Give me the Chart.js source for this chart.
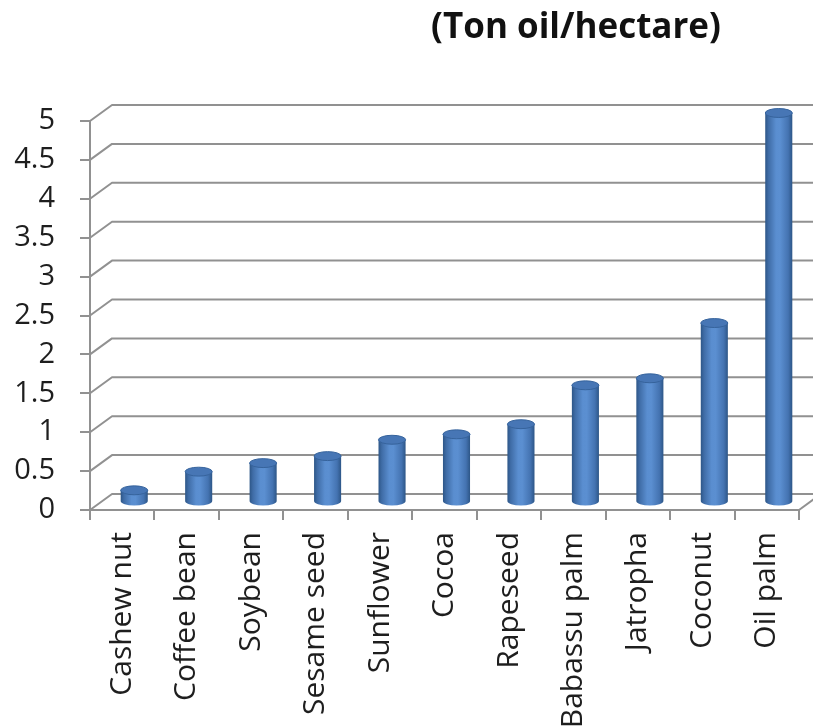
<!DOCTYPE html>
<html>
<head>
<meta charset="utf-8">
<script src="https://cdn.jsdelivr.net/npm/chart.js@4.4.1/dist/chart.umd.min.js"></script>
<style>
  html, body { margin: 0; padding: 0; background: #ffffff; }
  #wrap { width: 813px; height: 728px; position: relative; }
</style>
</head>
<body>
<div id="wrap"><canvas id="chart" width="813" height="728"></canvas></div>
<script>
// Oil yield per crop, tonnes of oil per hectare
const categories = ['Cashew nut', 'Coffee bean', 'Soybean', 'Sesame seed', 'Sunflower',
  'Cocoa', 'Rapeseed', 'Babassu palm', 'Jatropha', 'Coconut', 'Oil palm'];
const oilYield = [0.15, 0.39, 0.5, 0.59, 0.8, 0.87, 1.0, 1.5, 1.59, 2.3, 5.0];
const yTicks = [0, 0.5, 1, 1.5, 2, 2.5, 3, 3.5, 4, 4.5, 5];
const yTickLabels = ['0', '0.5', '1', '1.5', '2', '2.5', '3', '3.5', '4', '4.5', '5'];
const titleText = '(Ton oil/hectare)';

const FONT = "'Open Sans', 'DejaVu Sans', sans-serif";
const GRID = '#919191';
const TEXT = '#1e1e1e';
// depth of the pseudo-3D box (back wall offset) and where the bars sit in it
const DEPTH_X = 22, DEPTH_Y = -16;
const BAR_X = 12, BAR_Y = -8;

// back wall grid, side wall diagonals and floor edge
const boxPlugin = {
  id: 'box3d',
  beforeDatasetsDraw(chart) {
    const { ctx, chartArea, scales } = chart;
    const y = scales.y;
    ctx.save();
    ctx.strokeStyle = GRID;
    ctx.lineWidth = 2;
    ctx.lineJoin = 'round';
    y.ticks.forEach(t => {
      const py = y.getPixelForValue(t.value);
      ctx.beginPath();
      ctx.moveTo(chartArea.left, py);
      ctx.lineTo(chartArea.left + DEPTH_X, py + DEPTH_Y);
      ctx.lineTo(chart.width + 5, py + DEPTH_Y);
      ctx.stroke();
    });
    ctx.beginPath();
    ctx.moveTo(chartArea.right, chartArea.bottom);
    ctx.lineTo(chartArea.right + DEPTH_X, chartArea.bottom + DEPTH_Y);
    ctx.stroke();
    ctx.restore();
  }
};

// cylinders drawn at the positions of the bar elements
const cylinderPlugin = {
  id: 'cylinders',
  afterDatasetsDraw(chart) {
    const { ctx } = chart;
    const meta = chart.getDatasetMeta(0);
    ctx.save();
    meta.data.forEach(el => {
      const p = el.getProps(['x', 'y', 'base', 'width'], true);
      const cx = p.x + BAR_X;
      const top = p.y + BAR_Y;
      const bot = p.base + BAR_Y;
      const rx = p.width / 2;
      const ry = rx * 0.33;
      const g = ctx.createLinearGradient(cx - rx, 0, cx + rx, 0);
      g.addColorStop(0, '#2d5687');
      g.addColorStop(0.12, '#3f6ca6');
      g.addColorStop(0.4, '#5a8ed0');
      g.addColorStop(0.55, '#5b8fd1');
      g.addColorStop(0.85, '#4473b1');
      g.addColorStop(1, '#2d5687');
      ctx.beginPath();
      ctx.moveTo(cx - rx, top);
      ctx.lineTo(cx - rx, bot);
      ctx.ellipse(cx, bot, rx, ry, 0, Math.PI, 0, true);
      ctx.lineTo(cx + rx, top);
      ctx.closePath();
      ctx.fillStyle = g;
      ctx.fill();
      ctx.beginPath();
      ctx.ellipse(cx, top, rx, ry, 0, 0, Math.PI * 2);
      ctx.fillStyle = '#4776b5';
      ctx.fill();
      ctx.strokeStyle = '#36639c';
      ctx.lineWidth = 1;
      ctx.stroke();
    });
    ctx.restore();
  }
};

// title text
const titlePlugin = {
  id: 'unitTitle',
  afterDraw(chart) {
    const { ctx } = chart;
    ctx.save();
    ctx.font = `bold 35px ${FONT}`;
    ctx.fillStyle = '#111111';
    ctx.textAlign = 'center';
    ctx.textBaseline = 'middle';
    ctx.fillText(titleText, 576, 28);
    ctx.restore();
  }
};

new Chart(document.getElementById('chart'), {
  type: 'bar',
  data: {
    labels: categories,
    datasets: [{
      data: oilYield,
      backgroundColor: 'rgba(0,0,0,0)',
      borderWidth: 0,
      categoryPercentage: 1,
      barPercentage: 0.42
    }]
  },
  options: {
    responsive: false,
    animation: false,
    devicePixelRatio: 1,
    layout: { padding: { top: 121, right: 14, left: 0, bottom: 0 } },
    plugins: { legend: { display: false }, tooltip: { enabled: false }, title: { display: false } },
    scales: {
      x: {
        offset: true,
        grid: { display: true, drawOnChartArea: false, drawTicks: true, tickLength: 10, color: GRID, lineWidth: 2, offset: true },
        border: { display: true, color: GRID, width: 2 },
        ticks: { minRotation: 90, maxRotation: 90, autoSkip: false, padding: 12, color: TEXT, font: { family: FONT, size: 30 } },
        afterFit(s) { s.height = 218; s.paddingLeft = 0; s.paddingRight = 0; }
      },
      y: {
        min: 0, max: 5,
        afterBuildTicks(s) { s.ticks = yTicks.map(v => ({ value: v })); },
        grid: { display: true, drawOnChartArea: false, drawTicks: true, tickLength: 10, color: GRID, lineWidth: 2 },
        border: { display: true, color: GRID, width: 2 },
        ticks: {
          padding: 25, color: TEXT, font: { family: FONT, size: 29 },
          callback: (v, i) => yTickLabels[i]
        },
        afterFit(s) { s.width = 90; s.paddingTop = 0; s.paddingBottom = 0; }
      }
    }
  },
  plugins: [boxPlugin, cylinderPlugin, titlePlugin]
});
</script>
</body>
</html>
